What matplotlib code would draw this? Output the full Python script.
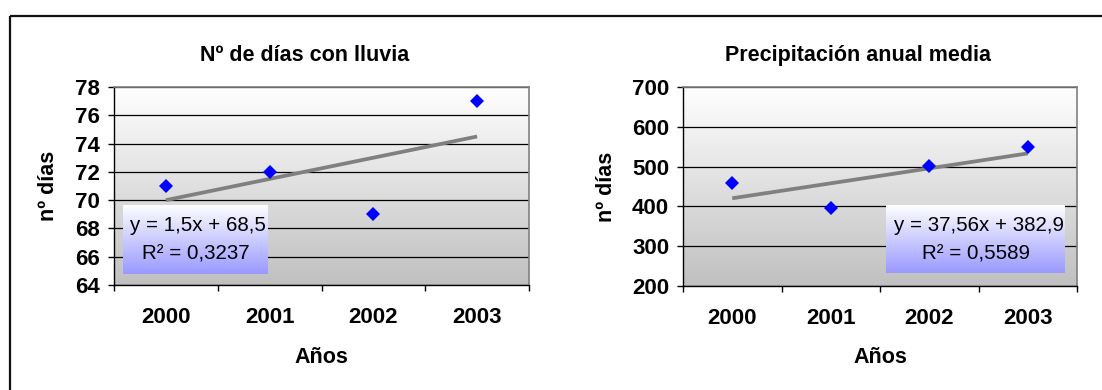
import numpy as np
import matplotlib
matplotlib.use("Agg")
import matplotlib.pyplot as plt
from matplotlib.colors import LinearSegmentedColormap
from matplotlib.patches import Rectangle

# ---- data ----
years = ["2000", "2001", "2002", "2003"]

rain_days = [71, 72, 69, 77]
rain_slope = 1.5
rain_intercept = 68.5
rain_r2 = 0.3237
rain_yticks = [64, 66, 68, 70, 72, 74, 76, 78]

precip = [459, 396, 502, 550]
precip_slope = 37.56
precip_intercept = 382.9
precip_r2 = 0.5589
precip_yticks = [200, 300, 400, 500, 600, 700]

titles = ["Nº de días con lluvia", "Precipitación anual media"]
ylabel = "nº días"
xlabel = "Años"

# ---- style ----
plt.rcParams["font.family"] = ["Liberation Sans", "DejaVu Sans"]
W, H = 1102, 390
DPI = 100
fig = plt.figure(figsize=(W / DPI, H / DPI), dpi=DPI)
fig.patch.set_facecolor("white")

bg_cmap = LinearSegmentedColormap.from_list("bg", ["#ffffff", "#c0c0c0"])
box_cmap = LinearSegmentedColormap.from_list("box", ["#ffffff", "#9999ff"])
grad = np.linspace(0, 1, 256).reshape(-1, 1)

TICK_FS = 16
LABEL_FS = 15.5
EQ_FS = 14.8


def px_axes(x0, y0, x1, y1):
    return fig.add_axes([x0 / W, 1 - y1 / H, (x1 - x0) / W, (y1 - y0) / H])


def fmt(v):
    return str(v).replace(".", ",")


# outer chart frame (top and left edges visible)
frame_ax = fig.add_axes([0, 0, 1, 1])
frame_ax.set_xlim(0, W)
frame_ax.set_ylim(H, 0)
frame_ax.axis("off")
frame_ax.add_patch(Rectangle((10, 15.5), W + 20, H + 20, fill=False,
                             edgecolor="#111111", linewidth=1.6))


def draw_panel(rect, values, slope, intercept, r2, yticks, title, title_x,
               ylabel_x, box_rect):
    x0, y0, x1, y1 = rect
    ax = px_axes(x0, y0, x1, y1)
    xs = np.arange(1, len(values) + 1)
    ymin, ymax = yticks[0], yticks[-1]

    ax.imshow(grad, cmap=bg_cmap, aspect="auto", origin="upper",
              extent=[0.5, len(values) + 0.5, ymin, ymax], zorder=0,
              interpolation="bilinear")
    ax.set_xlim(0.5, len(values) + 0.5)
    ax.set_ylim(ymin, ymax)

    ax.set_axisbelow(True)
    ax.yaxis.grid(True, color="#000000", linewidth=0.9)

    # scatter points and linear trend
    ax.plot(xs, values, linestyle="none", marker="D", markersize=7.6,
            color="#0000ff", markeredgewidth=0, zorder=4)
    xt = np.array([xs[0], xs[-1]], dtype=float)
    ax.plot(xt, slope * xt + intercept, color="#808080", linewidth=2.7,
            solid_capstyle="butt", zorder=3)

    # axes / spines
    for s in ("top", "right"):
        ax.spines[s].set_color("#808080")
        ax.spines[s].set_linewidth(1.2)
    for s in ("left", "bottom"):
        ax.spines[s].set_color("#000000")
        ax.spines[s].set_linewidth(1.0)

    ax.set_yticks(yticks)
    ax.set_yticklabels([str(t) for t in yticks], fontsize=TICK_FS,
                       fontweight="bold")
    ax.tick_params(axis="y", length=4, width=1, pad=6, color="#000000")

    ax.set_xticks(np.arange(0.5, len(values) + 1.0, 1.0))
    ax.set_xticklabels([])
    ax.set_xticks(xs, minor=True)
    ax.set_xticklabels(years, minor=True, fontsize=TICK_FS, fontweight="bold")
    ax.tick_params(axis="x", which="major", length=4, width=1,
                   color="#000000")
    ax.tick_params(axis="x", which="minor", length=0, pad=16)

    # titles and axis labels
    fig.text(title_x / W, 1 - 61 / H, title, ha="center", va="baseline",
             fontsize=LABEL_FS, fontweight="bold")
    fig.text(((x0 + x1) / 2) / W, 1 - 363 / H, xlabel, ha="center",
             va="baseline", fontsize=LABEL_FS, fontweight="bold")
    fig.text(ylabel_x / W, 1 - ((y0 + y1) / 2) / H, ylabel, ha="center",
             va="center", rotation=90, fontsize=LABEL_FS, fontweight="bold")

    # regression equation box
    bx0, by0, bx1, by1 = box_rect
    bax = px_axes(bx0, by0, bx1, by1)
    bax.imshow(grad, cmap=box_cmap, aspect="auto", origin="upper",
               extent=[0, 1, 0, 1], interpolation="bilinear")
    bax.set_xlim(0, 1)
    bax.set_ylim(0, 1)
    bax.axis("off")
    eq = f"y = {fmt(slope)}x + {fmt(intercept)}"
    rr = f"R² = {fmt(r2)}"
    bh = by1 - by0
    bax.text(0.52, 1 - (231 - by0) / bh, eq, ha="center", va="baseline",
             fontsize=EQ_FS, transform=bax.transAxes)
    bax.text(0.5, 1 - (260 - by0) / bh, rr, ha="center", va="baseline",
             fontsize=EQ_FS, transform=bax.transAxes)
    return ax


draw_panel((114, 87, 529, 285), rain_days, rain_slope, rain_intercept,
           rain_r2, rain_yticks, titles[0], 305, 48,
           (123, 205, 268, 274))
draw_panel((683, 87, 1077, 286), precip, precip_slope, precip_intercept,
           precip_r2, precip_yticks, titles[1], 858, 606,
           (886, 205, 1065, 273))

fig.savefig("out.png", dpi=DPI, facecolor="white")
